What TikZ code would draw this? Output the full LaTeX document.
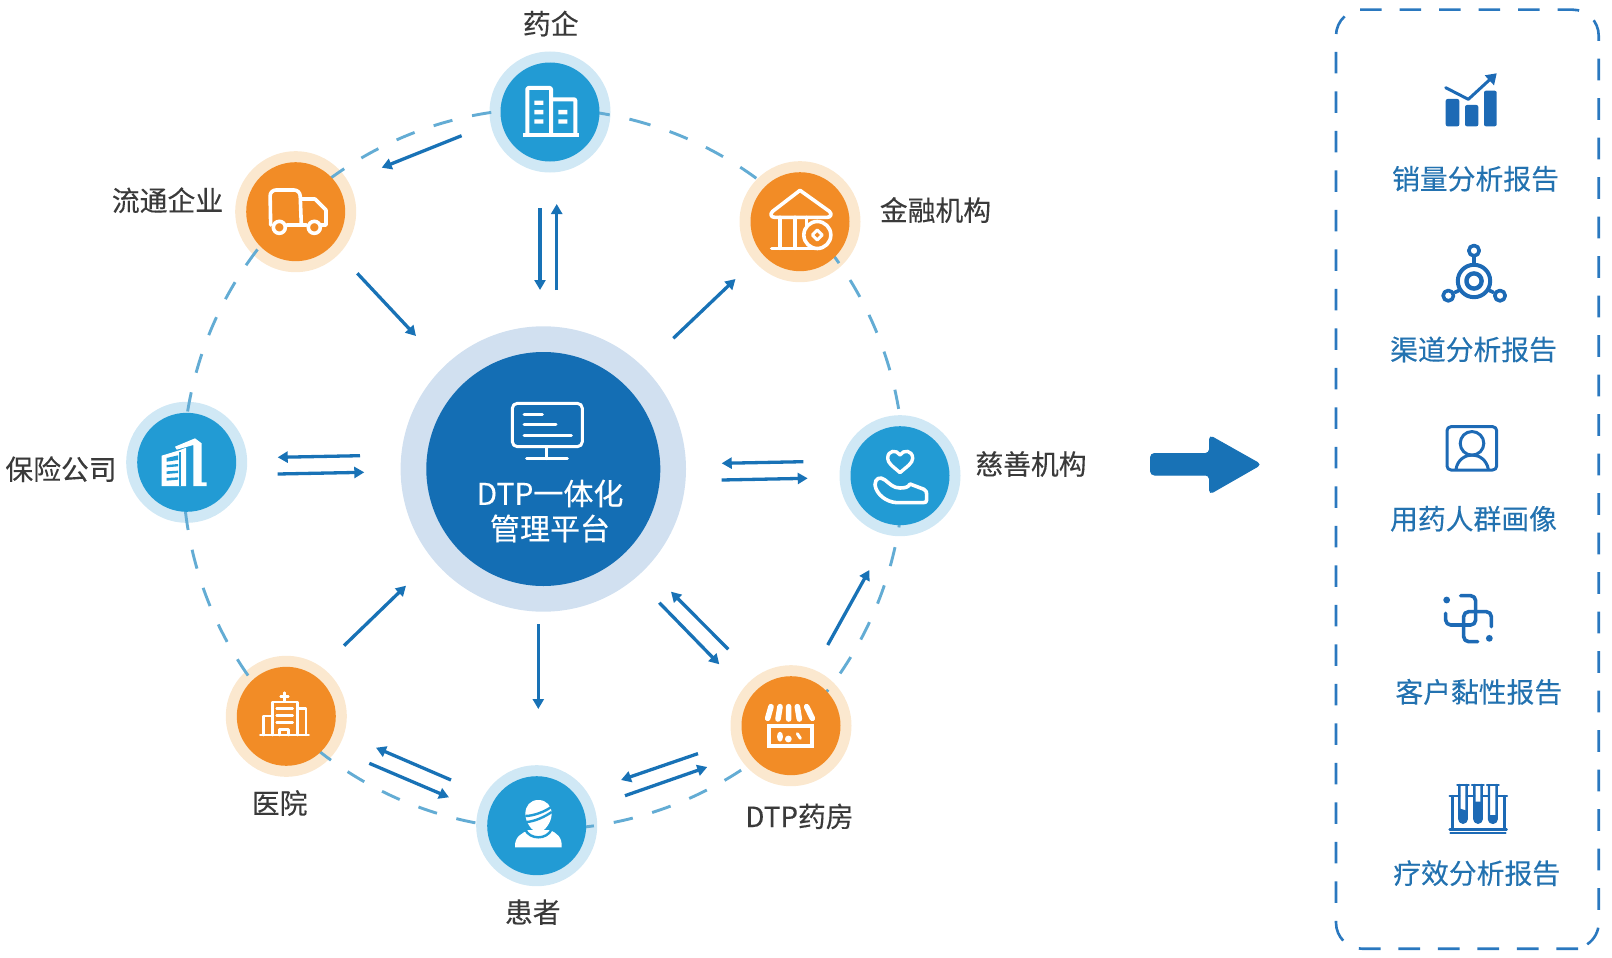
\documentclass[tikz,border=0pt]{standalone}
\usepackage{fontspec}
\setmainfont[FakeBold=0.25]{Noto Sans CJK SC}
\usetikzlibrary{arrows.meta}
\definecolor{darkblue}{HTML}{146EB4}
\definecolor{darkhalo}{HTML}{D1E0F0}
\definecolor{skyblue}{HTML}{229BD4}
\definecolor{skyhalo}{HTML}{D0E8F5}
\definecolor{orangec}{HTML}{F28C26}
\definecolor{orangehalo}{HTML}{FBE8CF}
\definecolor{flowblue}{HTML}{1872B6}
\definecolor{ringblue}{HTML}{63ACD4}
\definecolor{boxblue}{HTML}{2A78BF}
\definecolor{iconblue}{HTML}{1D6AB5}
\definecolor{reporttext}{HTML}{2372B0}
\definecolor{labeltext}{HTML}{3A3A3A}
\tikzset{
  disc/.style={circle,inner sep=0pt,outer sep=0pt,minimum size=#1},
  skyhalonode/.style={disc=121pt,fill=skyhalo},
  orangehalonode/.style={disc=121pt,fill=orangehalo},
  skynode/.style={disc=99pt,fill=skyblue},
  orangenode/.style={disc=99pt,fill=orangec},
  flow/.style={line width=3.3pt,draw=flowblue,-{Triangle[length=10pt,width=11pt]}},
  ringline/.style={line width=2.9pt,draw=ringblue,dash pattern=on 19.5pt off 20.18pt},
  framedash/.style={line width=2.6pt,draw=boxblue,dash pattern=on 21.7pt off 17.8pt},
  lbl/.style={inner sep=0pt,text=labeltext,font=\fontsize{27.8}{34}\selectfont,text height=0.8em,text depth=0.04em},
  rpt/.style={inner sep=0pt,text=reporttext,font=\fontsize{27.8}{34}\selectfont,text height=0.8em,text depth=0.04em},
  wline/.style={draw=white,line width=#1,line join=round,line cap=round},
  bline/.style={draw=iconblue,line width=#1,line join=round,line cap=round},
}
\begin{document}
\begin{tikzpicture}[x=1pt,y=-1pt]
\useasboundingbox (0,0) rectangle (1612,958);
% halos
\node[disc=285.4pt,fill=darkhalo] (centerhalo) at (543.3,469) {};
\node[skyhalonode] (h1) at (550,112) {};
\node[orangehalonode] (h2) at (800,221.7) {};
\node[skyhalonode] (h3) at (900,475.7) {};
\node[orangehalonode] (h4) at (791,725.7) {};
\node[skyhalonode] (h5) at (536.7,825.7) {};
\node[orangehalonode] (h6) at (286.3,716.3) {};
\node[skyhalonode] (h7) at (186.7,462.3) {};
\node[orangehalonode] (h8) at (295.7,211.7) {};
% ring
\draw[ringline] (centerhalo.center) ++(75.8:360.3pt) arc[start angle=75.8,delta angle=-360,radius=360.3pt];
% discs
\node[disc=234pt,fill=darkblue] (platform) at (543.3,469) {};
\node[skynode] (yaoqi) at (h1.center) {};
\node[orangenode] (jinrong) at (h2.center) {};
\node[skynode] (cishan) at (h3.center) {};
\node[orangenode] (yaofang) at (h4.center) {};
\node[skynode] (huanzhe) at (h5.center) {};
\node[orangenode] (yiyuan) at (h6.center) {};
\node[skynode] (baoxian) at (h7.center) {};
\node[orangenode] (liutong) at (h8.center) {};
% center text
\node[inner sep=0pt,text=white,align=center,font=\fontsize{30}{35}\selectfont] (platformtext) at (550,511) {DTP一体化\\管理平台};
% labels
\node[lbl] (l1) at (550.8,30.5) {药企};
\node[lbl] (l2) at (935.5,216.9) {金融机构};
\node[lbl] (l3) at (1031,470.8) {慈善机构};
\node[lbl] (l4) at (799.5,823.2) {DTP药房};
\node[lbl] (l5) at (532.8,918.9) {患者};
\node[lbl] (l6) at (279.7,809.9) {医院};
\node[lbl] (l7) at (61,476) {保险公司};
\node[lbl] (l8) at (167.5,207.2) {流通企业};
% arrows
\coordinate (a1s) at (540,208.3); \coordinate (a1e) at (540,290); \draw[flow] (a1s)--(a1e);
\coordinate (a2s) at (556.7,290); \coordinate (a2e) at (556.7,204); \draw[flow] (a2s)--(a2e);
\coordinate (a3s) at (673.3,338.3); \coordinate (a3e) at (735.5,279); \draw[flow] (a3s)--(a3e);
\coordinate (a4s) at (357.3,273.3); \coordinate (a4e) at (416,336); \draw[flow] (a4s)--(a4e);
\coordinate (a5s) at (461.6,135.7); \coordinate (a5e) at (381.7,167.7); \draw[flow] (a5s)--(a5e);
\coordinate (a6s) at (360,455.7); \coordinate (a6e) at (277.7,457.3); \draw[flow] (a6s)--(a6e);
\coordinate (a7s) at (277.7,474); \coordinate (a7e) at (364.3,472.3); \draw[flow] (a7s)--(a7e);
\coordinate (a8s) at (803.3,461.7); \coordinate (a8e) at (721.7,463.3); \draw[flow] (a8s)--(a8e);
\coordinate (a9s) at (721.7,480); \coordinate (a9e) at (807.7,478.3); \draw[flow] (a9s)--(a9e);
\coordinate (a10s) at (827.7,645); \coordinate (a10e) at (869.3,570); \draw[flow] (a10s)--(a10e);
\coordinate (a11s) at (728.3,649.3); \coordinate (a11e) at (671,591.7); \draw[flow] (a11s)--(a11e);
\coordinate (a12s) at (659.3,602.7); \coordinate (a12e) at (719.3,664.3); \draw[flow] (a12s)--(a12e);
\coordinate (a13s) at (538.3,624); \coordinate (a13e) at (538.3,709); \draw[flow] (a13s)--(a13e);
\coordinate (a14s) at (344,645.7); \coordinate (a14e) at (406,585.7); \draw[flow] (a14s)--(a14e);
\coordinate (a15s) at (451,780); \coordinate (a15e) at (376,747.7); \draw[flow] (a15s)--(a15e);
\coordinate (a16s) at (369.3,763.3); \coordinate (a16e) at (449,797.3); \draw[flow] (a16s)--(a16e);
\coordinate (a17s) at (698,753.6); \coordinate (a17e) at (621,780); \draw[flow] (a17s)--(a17e);
\coordinate (a18s) at (625,795.7); \coordinate (a18e) at (707.3,767); \draw[flow] (a18s)--(a18e);
% big arrow
\fill[flowblue,draw=flowblue,line width=1pt,rounded corners=4pt] (1150.5,453.5)--(1209.5,453.5)--(1209.5,435.5)--(1261,464.5)--(1209.5,494)--(1209.5,475)--(1150.5,475)--cycle;
% dashed frame
\draw[framedash] (1360,9.7)--(1572.7,9.7) arc[start angle=90,delta angle=-90,radius=26pt]--(1598.7,922.7) arc[start angle=0,delta angle=-56,radius=26pt];
\draw[framedash] (1578,948.7)--(1362,948.7) arc[start angle=270,delta angle=-90,radius=26pt]--(1336,35.7) arc[start angle=180,delta angle=-48,radius=26pt];
% reports
\node[rpt] (r1) at (1475.5,185.5) {销量分析报告};
\node[rpt] (r2) at (1473.5,356.2) {渠道分析报告};
\node[rpt] (r3) at (1473.5,525.5) {用药人群画像};
\node[rpt] (r4) at (1478.8,698.7) {客户黏性报告};
\node[rpt] (r5) at (1476.7,879.9) {疗效分析报告};
% --- icons on zoom coordinates ---
% monitor
\begin{scope}[shift={(400,320)},x=0.33333pt,y=-0.33333pt]
\draw[wline=3pt,rounded corners=5pt] (337,250) rectangle (547,380);
\draw[wline=3pt] (372,284)--(427,284) (372,314)--(468,314) (372,345)--(514,345) (440,380)--(440,416) (380,416)--(502,416);
\end{scope}
% yaoqi building
\begin{scope}[shift={(470,0)},x=0.33333pt,y=-0.33333pt]
\draw[wline=4pt,rounded corners=1pt] (172,404)--(172,264)--(243,264)--(243,404);
\draw[wline=4pt,rounded corners=1pt] (243,298)--(316,298)--(316,404);
\draw[wline=4pt,line cap=butt] (160,405)--(327,405);
\fill[white] (193,302) rectangle (220,315) (193,330) rectangle (220,343) (193,358) rectangle (220,371)
 (265,330) rectangle (292,343) (265,358) rectangle (292,371);
% bank
\draw[wline=3.6pt] (990,571)--(1078,634) .. controls (1087,642) and (1082,652) .. (1072,652)--(914,652) .. controls (903,652) and (899,642) .. (908,634)--cycle;
\draw[wline=3.6pt] (930,652)--(930,745) (975,652)--(975,745) (1010,652)--(1010,680) (905,745)--(1030,745);
\filldraw[draw=white,fill=orangec,line width=3.6pt] (1042,705) circle[radius=13.5pt];
\draw[wline=3pt] (1042,690)--(1057,705)--(1042,720)--(1027,705)--cycle;
\end{scope}
% truck
\begin{scope}[shift={(110,130)},x=0.33333pt,y=-0.33333pt]
\draw[wline=3.6pt,rounded corners=6pt] (482,285)--(480,180)--(570,180)--(574,285);
\draw[wline=3.6pt] (574,207)--(615,207)--(648,240)--(648,285)--(632,285) (530,285)--(590,285);
\filldraw[draw=white,fill=orangec,line width=3.6pt] (508,292) circle[radius=6pt] (613,292) circle[radius=6pt];
\end{scope}
% insurance building
\begin{scope}[shift={(150,425)},x=0.33333pt,y=-0.33333pt]
\fill[white] (35,92)--(88,76)--(108,68)--(108,183)--(35,183)--cycle;
\fill[skyblue] (50,99)--(84,91)--(84,105)--(50,110)--cycle (50,120)--(84,117)--(84,124)--(50,127)--cycle (50,139)--(84,137)--(84,144)--(50,147)--cycle (50,159)--(84,157)--(84,164)--(50,167)--cycle;
\fill[skyblue] (88,80) rectangle (92,183);
\fill[white] (75,65)--(135,40)--(155,55)--(155,172)--(170,172)--(170,183)--(130,183)--(130,60)--(80,74)--cycle;
\end{scope}
% heart and hand
\begin{scope}[shift={(700,400)},x=0.33333pt,y=-0.33333pt]
\draw[wline=3.4pt] (600,218) .. controls (580,200) and (563,190) .. (563,175) .. controls (563,150) and (590,148) .. (600,165) .. controls (610,148) and (638,150) .. (638,175) .. controls (638,190) and (620,200) .. (600,218)--cycle;
\draw[wline=3.6pt] (525,255) .. controls (525,235) and (540,228) .. (555,240) .. controls (570,252) and (580,264) .. (600,264) .. controls (615,264) and (625,262) .. (630,252)--(672,268) .. controls (680,272) and (680,278) .. (680,285)--(680,300) .. controls (680,306) and (676,308) .. (670,308)--(590,308) .. controls (560,306) and (530,285) .. (525,255)--cycle;
\end{scope}
% store
\begin{scope}[shift={(755,690)},x=0.33333pt,y=-0.33333pt]
\draw[wline=5.6pt] (38,85)--(48,50) (69,87)--(75,50) (101,87)--(101,50) (133,87)--(127,50) (172,85)--(155,50);
\draw[wline=4pt,line join=miter] (43,108) rectangle (172,168);
\fill[white] (75,140) ellipse[x radius=3pt,y radius=5pt];
\fill[white] (100,147) circle[radius=3.4pt];
\draw[wline=3pt] (127,131)--(136,145);
\end{scope}
% patient
\begin{scope}[shift={(500,790)},x=0.33333pt,y=-0.33333pt]
\fill[white] (45,172) .. controls (43,140) and (65,130) .. (85,120)--(150,120) .. controls (170,130) and (187,140) .. (185,172)--cycle;
\draw[draw=skyblue,line width=2.4pt] (75,118) .. controls (90,150) and (140,150) .. (155,118);
\fill[white] (115,30) .. controls (140,30) and (155,48) .. (155,72) .. controls (155,95) and (135,125) .. (115,128) .. controls (95,125) and (76,95) .. (76,72) .. controls (76,48) and (90,30) .. (115,30)--cycle;
\draw[draw=skyblue,line width=2.4pt] (76,78) .. controls (100,78) and (135,65) .. (155,50);
\draw[draw=skyblue,line width=2.4pt] (80,96) .. controls (105,94) and (135,80) .. (155,66);
\end{scope}
% hospital
\begin{scope}[shift={(210,640)},x=0.33333pt,y=-0.33333pt]
\draw[wline=2.6pt] (212,170)--(235,170) (223,158)--(223,182);
\draw[wline=2.6pt] (188,285)--(188,186)--(262,186)--(262,285);
\draw[wline=2.6pt] (188,228)--(160,228)--(160,285) (262,205)--(288,205)--(288,285);
\draw[wline=2.8pt] (151,285)--(296,285);
\draw[wline=2.6pt] (200,205)--(248,205) (200,226)--(248,226) (200,247)--(248,247);
\draw[wline=2.6pt] (208,285)--(208,268)--(236,268)--(236,285);
\end{scope}
% chart + network
\begin{scope}[shift={(1330,0)},x=0.33333pt,y=-0.33333pt]
\fill[iconblue,rounded corners=2pt] (347,297) rectangle (388,379);
\fill[iconblue,rounded corners=2pt] (405,315) rectangle (445,379);
\fill[iconblue,rounded corners=2pt] (462,272) rectangle (500,379);
\draw[bline=3pt] (347,263)--(415,298)--(478,240);
\fill[iconblue] (464,226)--(500,220)--(492,256)--cycle;
\draw[bline=4pt] (432,843) circle[radius=16.2pt];
\draw[bline=4.4pt] (432,843) circle[radius=7.6pt];
\draw[bline=3.6pt] (432,752) circle[radius=5.2pt] (355,887) circle[radius=5.2pt] (510,887) circle[radius=5.2pt];
\draw[bline=3.6pt] (432,770)--(432,790) (375,877)--(390,870) (490,877)--(475,870);
\end{scope}
% portrait + swirl
\begin{scope}[shift={(1330,400)},x=0.33333pt,y=-0.33333pt]
\draw[bline=3pt,rounded corners=4pt] (351,80) rectangle (500,210);
\draw[bline=3pt] (426,130) circle[radius=11.8pt];
\draw[bline=3pt] (378,208) .. controls (382,180) and (405,165) .. (426,165) .. controls (448,165) and (470,180) .. (475,208);
\fill[iconblue] (350,600) circle[radius=3.4pt] (478,715) circle[radius=3.4pt];
\draw[bline=3.6pt,rounded corners=5pt] (392,587)--(437,587)--(437,675)--(347,675)--(347,640);
\draw[bline=3.6pt,rounded corners=5pt] (484,680)--(484,635)--(401,635)--(401,725)--(443,725);
\end{scope}
% test tubes
\begin{scope}[shift={(1330,740)},x=0.33333pt,y=-0.33333pt]
\fill[iconblue] (388,205)--(410,212)--(410,237) arc[start angle=0,end angle=-180,radius=3.67pt]--cycle;
\fill[iconblue] (433,185)--(455,185)--(455,237) arc[start angle=0,end angle=-180,radius=3.67pt]--cycle;
\fill[iconblue] (477,225)--(500,225)--(500,237) arc[start angle=0,end angle=-180,radius=3.83pt]--cycle;
\draw[bline=2.4pt] (388,135)--(388,237) arc[start angle=180,end angle=360,radius=3.67pt]--(410,135);
\draw[bline=2.4pt] (433,135)--(433,237) arc[start angle=180,end angle=360,radius=3.67pt]--(455,135);
\draw[bline=2.4pt] (477,135)--(477,237) arc[start angle=180,end angle=360,radius=3.83pt]--(500,135);
\draw[bline=2.4pt] (382,135)--(416,135) (426,135)--(461,135) (471,135)--(506,135);
\draw[bline=2.4pt] (359,168)--(388,168) (410,168)--(433,168) (455,168)--(477,168) (500,168)--(531,168);
\draw[bline=2.4pt] (367,168)--(367,268) (523,168)--(523,268) (359,268)--(530,268);
\draw[bline=2pt] (361,280)--(527,280);
\end{scope}
\end{tikzpicture}
\end{document}
